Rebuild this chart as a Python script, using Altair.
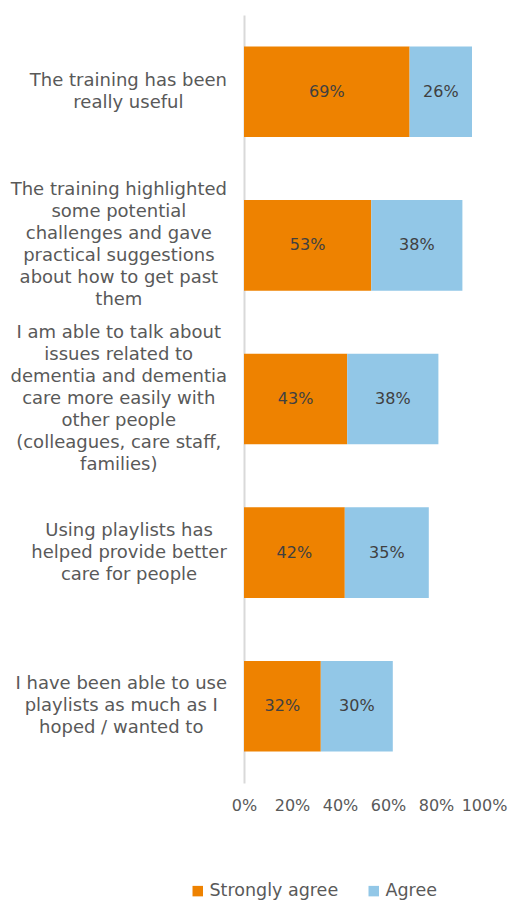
import altair as alt
import pandas as pd

categories = [
    "The training has been|really useful",
    "The training highlighted|some potential|challenges and gave|practical suggestions|about how to get past|them",
    "I am able to talk about|issues related to|dementia and dementia|care more easily with|other people|(colleagues, care staff,|families)",
    "Using playlists has|helped provide better|care for people",
    "I have been able to use|playlists as much as I|hoped / wanted to",
]
strongly_agree = [69, 53, 43, 42, 32]
agree = [26, 38, 38, 35, 30]
series = ["Strongly agree", "Agree"]
colors = ["#EE8200", "#92C7E7"]
x_ticks = [0, 20, 40, 60, 80, 100]

FONT = "DejaVu Sans"
LABEL_SIZE = 18
LINE_H = 22
PLOT_H = 768
PAD_INNER = 0.41
PAD_OUTER = 0.205

# DejaVu Sans advance widths (units per em = 2048), used to centre each label block
ADV = {
    " ": 651, "a": 1255, "b": 1300, "c": 1126, "d": 1300, "e": 1260, "f": 721,
    "g": 1300, "h": 1298, "i": 569, "j": 569, "k": 1186, "l": 569, "m": 1995,
    "n": 1298, "o": 1253, "p": 1300, "q": 1300, "r": 842, "s": 1067, "t": 803,
    "u": 1298, "v": 1212, "w": 1675, "x": 1212, "y": 1212, "z": 1075,
    "T": 1251, "I": 604, "U": 1499, "(": 799, ")": 799, ",": 651, "/": 690, ".": 651,
}


def text_width(s, size):
    return sum(ADV.get(ch, 1250) for ch in s) / 2048 * size


rows = []
for c, sa, a in zip(categories, strongly_agree, agree):
    rows.append({"cat": c, "series": "Strongly agree", "val": sa, "ord": 0})
    rows.append({"cat": c, "series": "Agree", "val": a, "ord": 1})
df = pd.DataFrame(rows)

label_rows = []
for c in categories:
    lines = c.split("|")
    blockw = max(text_width(l, LABEL_SIZE) for l in lines)
    for i, l in enumerate(lines):
        label_rows.append({"cat": c, "line": l, "idx": i, "n": len(lines), "blockw": blockw})
ldf = pd.DataFrame(label_rows)

# half of the band width (text with yOffset is anchored at band start)
n_cat = len(categories)
step = PLOT_H / (n_cat - PAD_INNER + 2 * PAD_OUTER)
half_band = step * (1 - PAD_INNER) / 2

y_scale = alt.Scale(paddingInner=PAD_INNER, paddingOuter=PAD_OUTER)

bars = alt.Chart(df).mark_bar().encode(
    y=alt.Y(
        "cat:N",
        sort=categories,
        title=None,
        scale=y_scale,
        axis=alt.Axis(
            labels=False,
            ticks=False,
            domainColor="#D9D9D9",
            domainWidth=2,
        ),
    ),
    x=alt.X(
        "val:Q",
        stack="zero",
        title=None,
        scale=alt.Scale(domain=[0, 100], nice=False),
        axis=alt.Axis(
            values=x_ticks,
            labelExpr="datum.value + '%'",
            labelFontSize=16,
            labelColor="#595959",
            labelFont=FONT,
            labelPadding=14,
            ticks=False,
            domain=False,
            grid=False,
            labelFlush=False,
        ),
    ),
    order=alt.Order("ord:Q"),
    color=alt.Color(
        "series:N",
        scale=alt.Scale(domain=series, range=colors),
        sort=series,
        legend=alt.Legend(
            title=None,
            orient="none",
            direction="horizontal",
            legendX=-55,
            legendY=867,
            symbolType="square",
            symbolSize=110,
            symbolStrokeWidth=0,
            labelFontSize=17.5,
            labelColor="#595959",
            labelFont=FONT,
            labelOffset=3,
            columnPadding=26,
        ),
    ),
)

text = alt.Chart(df).transform_stack(
    stack="val", groupby=["cat"], sort=[alt.SortField("ord")], as_=["v0", "v1"]
).transform_calculate(
    mid="(datum.v0 + datum.v1) / 2", lbl="datum.val + '%'"
).mark_text(
    fontSize=16, color="#404040", font=FONT, baseline="middle", align="center"
).encode(
    y=alt.Y("cat:N", sort=categories),
    x=alt.X("mid:Q"),
    text="lbl:N",
)

labels = alt.Chart(ldf).transform_calculate(
    lx="-17 - datum.blockw / 2",
    ly=f"(datum.idx - (datum.n - 1) / 2) * {LINE_H} + {half_band}",
).mark_text(
    fontSize=LABEL_SIZE, color="#595959", font=FONT, baseline="middle", align="center"
).encode(
    y=alt.Y("cat:N", sort=categories),
    yOffset=alt.YOffset("ly:Q", scale=None),
    x=alt.X("lx:Q", scale=None, axis=None),
    text="line:N",
)

chart = (
    alt.layer(bars, text, labels)
    .properties(
        width=240,
        height=PLOT_H,
        padding={"left": 244, "top": 15, "right": 27, "bottom": 117},
        autosize=alt.AutoSizeParams(type="none"),
        background="white",
    )
    .configure_view(stroke=None)
)

chart.save("out.html", embed_options={"renderer": "svg", "actions": False})
